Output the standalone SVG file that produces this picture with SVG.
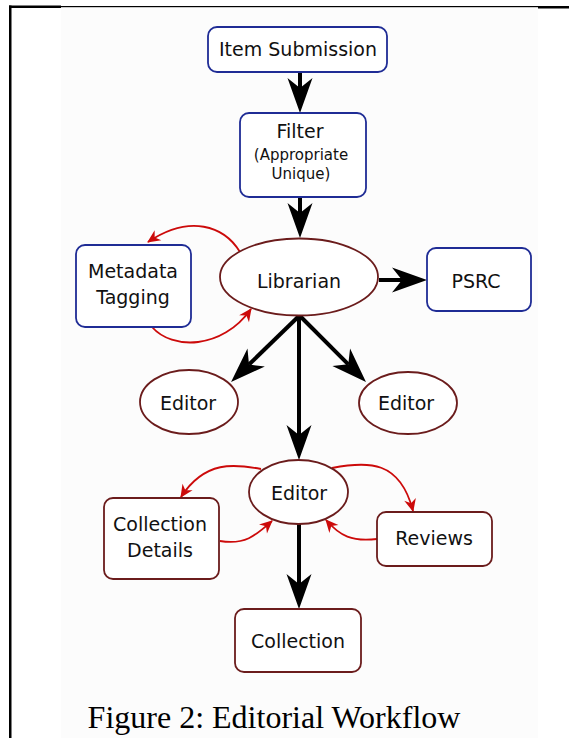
<svg xmlns="http://www.w3.org/2000/svg" width="569" height="738" viewBox="0 0 569 738">
<style>
.bl{fill:#fff;stroke:#1f2c95;stroke-width:1.8}
.rd{fill:#fff;stroke:#6b1c1c;stroke-width:1.8}
.t{font-family:"DejaVu Sans",Verdana,sans-serif;font-size:19px;fill:#111;text-anchor:middle}
.s{font-size:15px}
.k{fill:none;stroke:#000;stroke-width:4}
.r{fill:none;stroke:#cc0a0a;stroke-width:1.8}
</style>
<defs>
<marker id="ak" markerUnits="userSpaceOnUse" viewBox="-10 -14 36 28" markerWidth="36" markerHeight="28" refX="0" refY="0" orient="auto" overflow="visible">
<path d="M25,0 L-10,-12.5 L0,0 L-10,12.5 Z" fill="#000"/>
</marker>
<marker id="ar" markerUnits="userSpaceOnUse" viewBox="-14 -8 16 16" markerWidth="16" markerHeight="16" refX="0" refY="0" orient="auto" overflow="visible">
<path d="M1,0 L-12,-6 L-8,0 L-12,6 Z" fill="#cc0a0a"/>
</marker>
</defs>
<rect x="0" y="0" width="569" height="738" fill="#fff"/>
<rect x="61" y="7" width="477" height="731" fill="#fcfcfc"/>
<g id="frame" fill="#000">
<rect x="9" y="5.5" width="52" height="2.5"/>
<rect x="61" y="6" width="477" height="1.2"/>
<rect x="538" y="6" width="31" height="2.5"/>
<rect x="9" y="5.5" width="2.5" height="733"/>
</g>
<g id="connectors">
<line class="k" x1="300" y1="72" x2="300" y2="88" marker-end="url(#ak)"/>
<line class="k" x1="300" y1="197" x2="300" y2="213" marker-end="url(#ak)"/>
<line class="k" x1="379" y1="280" x2="402" y2="280" marker-end="url(#ak)"/>
<line class="k" x1="299" y1="316" x2="249" y2="364.5" marker-end="url(#ak)"/>
<line class="k" x1="300" y1="316" x2="348.3" y2="364.3" marker-end="url(#ak)"/>
<line class="k" x1="299" y1="316" x2="299" y2="435" marker-end="url(#ak)"/>
<line class="k" x1="299" y1="524" x2="299" y2="584" marker-end="url(#ak)"/>
<path class="r" d="M240,252 C224,226 190,214 148,242" marker-end="url(#ar)"/>
<path class="r" d="M152,327 C172,350 222,350 251,309" marker-end="url(#ar)"/>
<path class="r" d="M261,469 C235,464 205,460 181,497" marker-end="url(#ar)"/>
<path class="r" d="M220,541 C245,545 255,536 272,521" marker-end="url(#ar)"/>
<path class="r" d="M332,468 C368,461 400,460 413,511" marker-end="url(#ar)"/>
<path class="r" d="M377,539 C352,542 340,536 326,520" marker-end="url(#ar)"/>
</g>
<g id="item-submission">
<rect class="bl" x="208" y="27" width="179" height="45" rx="9"/>
<text class="t" x="298" y="56">Item Submission</text>
</g>
<g id="filter">
<rect class="bl" x="240" y="113" width="126" height="84" rx="9"/>
<text class="t" x="300" y="138">Filter</text>
<text class="t s" x="301" y="160">(Appropriate</text>
<text class="t s" x="301" y="179">Unique)</text>
</g>
<g id="librarian">
<ellipse class="rd" cx="299" cy="277" rx="79" ry="38.5"/>
<text class="t" x="299" y="288">Librarian</text>
</g>
<g id="metadata-tagging">
<rect class="bl" x="76" y="245" width="115" height="82" rx="9"/>
<text class="t" x="133" y="278">Metadata</text>
<text class="t" x="133" y="304">Tagging</text>
</g>
<g id="psrc">
<rect class="bl" x="427" y="248" width="104" height="63" rx="9"/>
<text class="t" x="476" y="288">PSRC</text>
</g>
<g id="editor-left">
<ellipse class="rd" cx="189" cy="402" rx="49" ry="32"/>
<text class="t" x="188" y="410">Editor</text>
</g>
<g id="editor-right">
<ellipse class="rd" cx="408" cy="403" rx="49" ry="31"/>
<text class="t" x="406" y="410">Editor</text>
</g>
<g id="editor-center">
<ellipse class="rd" cx="298.5" cy="492" rx="49.5" ry="32"/>
<text class="t" x="299" y="500">Editor</text>
</g>
<g id="collection-details">
<rect class="rd" x="104" y="498" width="115" height="81" rx="9"/>
<text class="t" x="160" y="531">Collection</text>
<text class="t" x="160" y="557">Details</text>
</g>
<g id="reviews">
<rect class="rd" x="377" y="512" width="115" height="54" rx="9"/>
<text class="t" x="434" y="545">Reviews</text>
</g>
<g id="collection">
<rect class="rd" x="235" y="609" width="126" height="63" rx="9"/>
<text class="t" x="298" y="648">Collection</text>
</g>
<text id="caption" x="274" y="728" font-family="'Liberation Serif','Times New Roman',serif" font-size="32" fill="#000" text-anchor="middle">Figure 2: Editorial Workflow</text>
</svg>
